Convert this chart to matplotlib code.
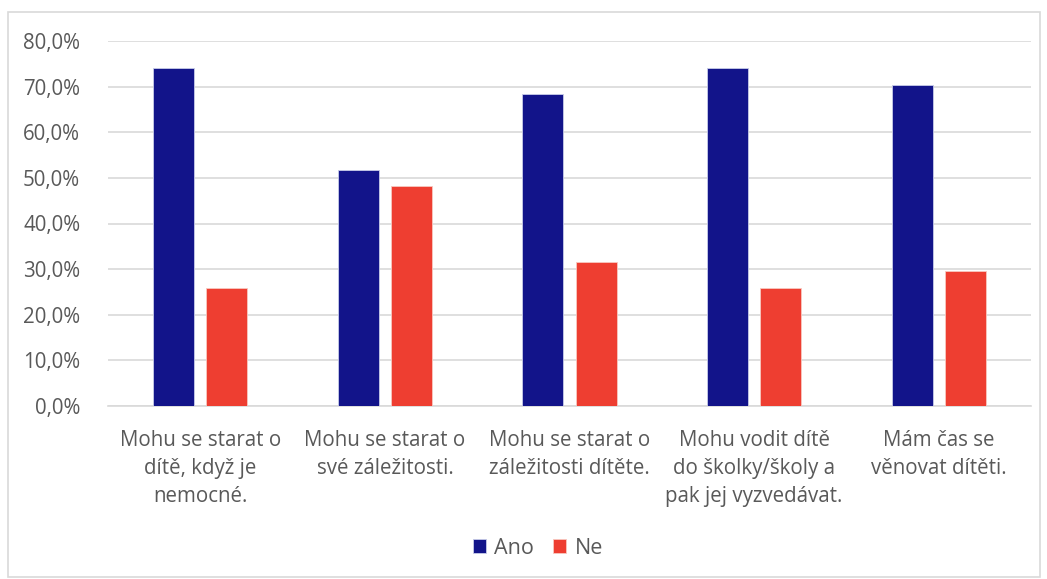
import matplotlib
matplotlib.use("Agg")
import matplotlib.pyplot as plt
from matplotlib.patches import Rectangle
import numpy as np

categories = ["Mohu se starat o\ndítě, když je\nnemocné.",
              "Mohu se starat o\nsvé záležitosti.",
              "Mohu se starat o\nzáležitosti dítěte.",
              "Mohu vodit dítě\ndo školky/školy a\npak jej vyzvedávat.",
              "Mám čas se\nvěnovat dítěti."]
ano = [74.1, 51.8, 68.4, 74.1, 70.4]
ne = [25.9, 48.2, 31.6, 25.9, 29.6]
series_names = ["Ano", "Ne"]
colors = ["#12148A", "#EE3E31"]
yticks = [0, 10, 20, 30, 40, 50, 60, 70, 80]

plt.rcParams['font.family'] = ['Open Sans', 'DejaVu Sans']
fig = plt.figure(figsize=(10.47, 5.79), dpi=100)
ax = fig.add_axes([108/1047, 1-406/579, (1031-108)/1047, (406-41)/579])

x = np.arange(len(categories))
w = 0.222
off = 0.144
ax.bar(x - off, ano, w, color=colors[0], edgecolor="#c8cce8", linewidth=0.6, label=series_names[0], zorder=3)
ax.bar(x + off, ne, w, color=colors[1], edgecolor="#f8c8c0", linewidth=0.6, label=series_names[1], zorder=3)

ax.set_xlim(-0.5, len(categories) - 0.5)
ax.set_ylim(0, 80)
ax.set_yticks(yticks)
ax.set_yticklabels([f"{v:.1f}%".replace(".", ",") for v in yticks], color="#595959", fontsize=14.8)
ax.set_xticks(x)
ax.set_xticklabels(categories, color="#595959", fontsize=14.8, linespacing=1.45)
ax.tick_params(axis='both', length=0)
ax.tick_params(axis='x', pad=17)
ax.tick_params(axis='y', pad=20)
ax.grid(axis='y', color="#d9d9d9", linewidth=1.2, zorder=0)
for s in ["top", "right", "left"]:
    ax.spines[s].set_visible(False)
ax.spines["bottom"].set_color("#d9d9d9")
ax.spines["bottom"].set_linewidth(1.2)

leg = fig.legend(loc="center", bbox_to_anchor=(538/1047, 1-548/579), ncol=2, frameon=False,
                 fontsize=15.5, handlelength=0.6, handleheight=0.6, handletextpad=0.4, columnspacing=0.9,
                 labelcolor="#595959")

fig.patches.append(Rectangle((8/1047, 1-577/579), (1040-8)/1047, (577-12)/579, transform=fig.transFigure,
                             fill=False, edgecolor="#d9d9d9", linewidth=1.2))

fig.savefig("out.png", dpi=100)
